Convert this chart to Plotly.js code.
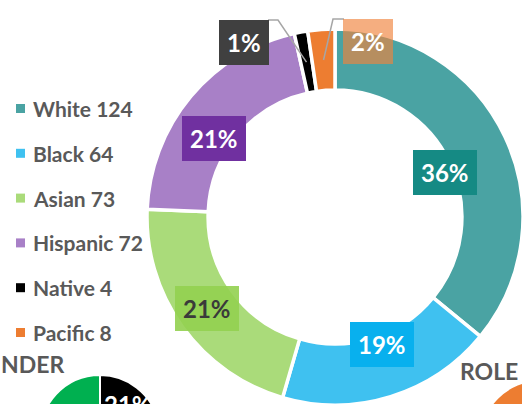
<!DOCTYPE html>
<html><head><meta charset="utf-8">
<script src="https://cdn.plot.ly/plotly-3.0.1.min.js"></script>
<style>
html,body{margin:0;padding:0;overflow:hidden;background:#fff;width:522px;height:404px}
#wrap{width:522px;height:404px;overflow:hidden;position:relative}
#chart{width:600px;height:500px;position:absolute;left:0;top:0}
</style>
</head><body><div id="wrap"><div id="chart"></div></div>
<script>
// ---- data ----
const categories = ['White', 'Black', 'Asian', 'Hispanic', 'Native', 'Pacific'];
const counts = [124, 64, 73, 72, 4, 8];
const sliceColors = ['#4AA3A3', '#3FC1F0', '#AADB7A', '#A880C7', '#000000', '#ED7D31'];
const boxColors = ['#158A84', '#08B0EE', 'rgba(146,208,80,0.9)', '#7030A0', '#404040', 'rgba(240,130,60,0.65)'];
const labelTextColors = ['#FFFFFF', '#FFFFFF', '#3A3A3A', '#FFFFFF', '#FFFFFF', '#FFFFFF'];

// partially visible neighbouring charts (cropped in the reference)
const genderCategories = ['Group A', 'Group B'];
const genderValues = [21, 79];
const genderColors = ['#000000', '#00B050'];
const roleCategories = ['Role A'];
const roleValues = [100];
const roleColors = ['#ED7D31'];

// ---- layout geometry (pixels) ----
const W = 600, H = 500;
const px = x => x / W, py = y => 1 - y / H;
const cx = 335, cy = 217, R = 188, holeFrac = 0.675;
const rMid = R * (1 + holeFrac) / 2;

const total = counts.reduce((a, b) => a + b, 0);
const pctText = counts.map(v => Math.round(v / total * 100) + '%');
let cum = 0;
const midPts = counts.map(v => {
  const f = (cum + v / 2) / total; cum += v;
  const th = f * 2 * Math.PI;
  return [cx + rMid * Math.sin(th), cy - rMid * Math.cos(th)];
});

const FONT = 'Lato, "Open Sans", sans-serif';
const annotations = [];
const shapes = [];

// in-ring labels for the four large slices
for (let i = 0; i < 4; i++) {
  annotations.push({
    xref: 'paper', yref: 'paper', x: px(midPts[i][0]), y: py(midPts[i][1]),
    text: '<b>' + pctText[i] + '</b>', showarrow: false,
    bgcolor: boxColors[i], borderpad: 8, borderwidth: 0,
    font: {family: FONT, size: 24, color: labelTextColors[i]}
  });
}
// outside labels with elbow leaders for the two small slices
const outside = [
  {i: 4, bx: 244, by: 20, edge: 268, elbow: 278},
  {i: 5, bx: 368, by: 19, edge: 344, elbow: 333}
];
outside.forEach(o => {
  annotations.push({
    xref: 'paper', yref: 'paper', x: px(o.bx), y: py(o.by),
    text: '<b>' + pctText[o.i] + '</b>', showarrow: false,
    bgcolor: boxColors[o.i], borderpad: 8, borderwidth: 0,
    font: {family: FONT, size: 24, color: labelTextColors[o.i]}
  });
  const [mx, my] = midPts[o.i];
  shapes.push({
    type: 'path', xref: 'paper', yref: 'paper',
    path: `M ${px(o.edge)} ${py(o.by)} L ${px(o.elbow)} ${py(o.by)} L ${px(mx)} ${py(my)}`,
    line: {color: '#A6A6A6', width: 1.5}
  });
});

// custom legend
categories.forEach((c, i) => {
  const y = 108.5 + 44.8 * i;
  shapes.push({
    type: 'rect', xref: 'paper', yref: 'paper',
    x0: px(16), x1: px(25), y0: py(y + 4.5), y1: py(y - 4.5),
    fillcolor: sliceColors[i], line: {width: 0}
  });
  annotations.push({
    xref: 'paper', yref: 'paper', x: px(31), y: py(y), xanchor: 'left', yanchor: 'middle',
    text: '<b>' + c + ' ' + counts[i] + '</b>', showarrow: false,
    font: {family: FONT, size: 21, color: '#595959'}
  });
});

// titles of the neighbouring cropped charts (only their visible part)
annotations.push({xref: 'paper', yref: 'paper', x: px(-1), y: py(363.5), xanchor: 'left', yanchor: 'middle',
  text: '<b>NDER</b>', showarrow: false, font: {family: FONT, size: 23, color: '#595959'}});
annotations.push({xref: 'paper', yref: 'paper', x: px(458), y: py(371), xanchor: 'left', yanchor: 'middle',
  text: '<b>ROLE</b>', showarrow: false, font: {family: FONT, size: 23, color: '#595959'}});
annotations.push({xref: 'paper', yref: 'paper', x: px(102), y: py(388), xanchor: 'left', yanchor: 'top',
  text: '<b>' + genderValues[0] + '%</b>', showarrow: false, font: {family: FONT, size: 24, color: '#FFFFFF'}});

const gR = 60, gx = 100, gy = 435;
const rR = 64, rx = 545, ry = 445;

const traces = [
  {
    type: 'pie', labels: categories, values: counts, sort: false, direction: 'clockwise', rotation: 0,
    hole: holeFrac, marker: {colors: sliceColors, line: {color: '#FFFFFF', width: 3.5}},
    textinfo: 'none', hoverinfo: 'none', showlegend: false,
    domain: {x: [px(cx - R), px(cx + R)], y: [py(cy + R), py(cy - R)]}
  },
  {
    type: 'pie', labels: genderCategories, values: genderValues, sort: false, direction: 'clockwise', rotation: 0,
    marker: {colors: genderColors, line: {color: '#FFFFFF', width: 2}},
    textinfo: 'none', hoverinfo: 'none', showlegend: false,
    domain: {x: [px(gx - gR), px(gx + gR)], y: [py(gy + gR), py(gy - gR)]}
  },
  {
    type: 'pie', labels: roleCategories, values: roleValues, sort: false,
    marker: {colors: roleColors, line: {color: '#FFFFFF', width: 0}},
    textinfo: 'none', hoverinfo: 'none', showlegend: false,
    domain: {x: [px(rx - rR), px(rx + rR)], y: [py(ry + rR), py(ry - rR)]}
  }
];

Plotly.newPlot('chart', traces, {
  width: W, height: H, margin: {l: 0, r: 0, t: 0, b: 0},
  paper_bgcolor: '#FFFFFF', showlegend: false,
  annotations: annotations, shapes: shapes
}, {displayModeBar: false, staticPlot: true});
</script>
</body></html>
